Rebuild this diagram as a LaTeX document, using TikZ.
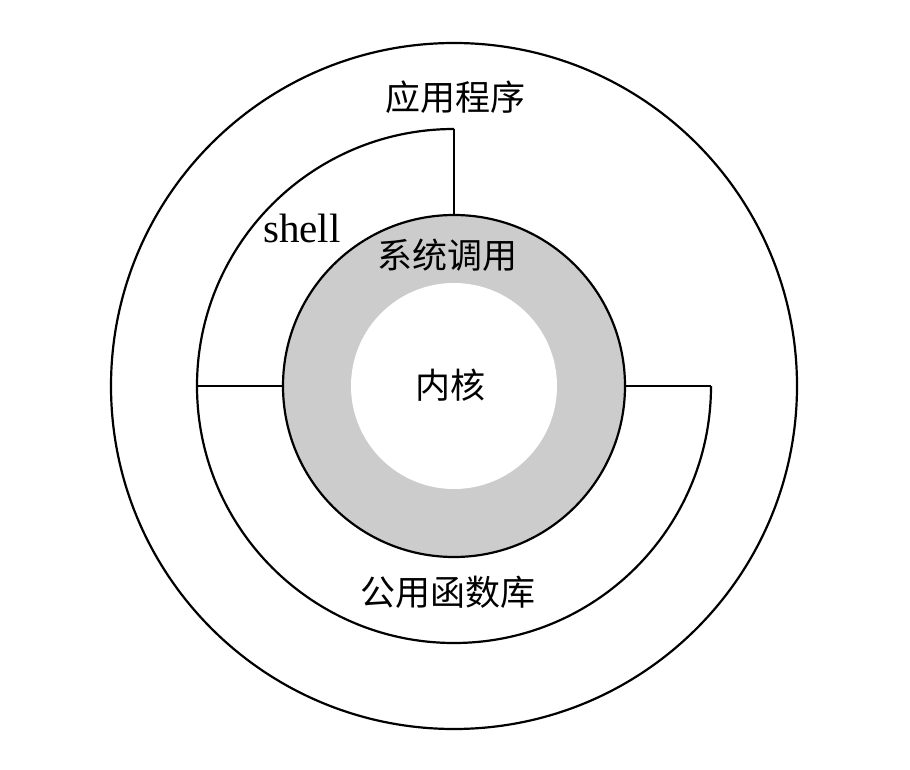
\documentclass[tikz,border=0pt]{standalone}
\usepackage{fontspec}
\newfontfamily\cjk{Noto Sans CJK SC}
\newfontfamily\lserif{Liberation Serif}
\definecolor{ringgray}{HTML}{CCCCCC}
\tikzset{
  ring/.style={draw=black, line width=2.2pt},
  cjklabel/.style={font=\cjk\fontsize{35}{35}\selectfont, inner sep=0pt, text=black},
  latinlabel/.style={font=\lserif\fontsize{41}{41}\selectfont, inner sep=0pt, text=black}
}
\begin{document}
\begin{tikzpicture}[x=1pt,y=-1pt]
\useasboundingbox[fill=white] (0,0) rectangle (910,770);
\coordinate (c) at (454,386);
% outer circle
\draw[ring] (c) circle[radius=343];
% shell arc
\coordinate (shelltop) at (454,129);
\coordinate (midleft) at (197,386);
\coordinate (libright) at (711,386);
\draw[ring] (shelltop) arc[start angle=-90, end angle=-180, radius=257];
% library arc
\draw[ring] (midleft) arc[start angle=180, end angle=0, radius=257];
% gray ring
\draw[ring, fill=ringgray] (c) circle[radius=171];
\fill[white] (c) circle[radius=103];
\coordinate (graytop) at (454,215);
\coordinate (grayleft) at (283,386);
\coordinate (grayright) at (625,386);
\draw[ring] (shelltop) -- (graytop);
\draw[ring] (midleft) -- (grayleft);
\draw[ring] (grayright) -- (libright);
% labels
\node[cjklabel] (app) at (455,97) {应用程序};
\node[latinlabel, anchor=base] (shell) at (302,243) {shell};
\node[cjklabel] (syscall) at (447,255) {系统调用};
\node[cjklabel] (kernel) at (450,385) {内核};
\node[cjklabel] (lib) at (448,592) {公用函数库};
\end{tikzpicture}
\end{document}
